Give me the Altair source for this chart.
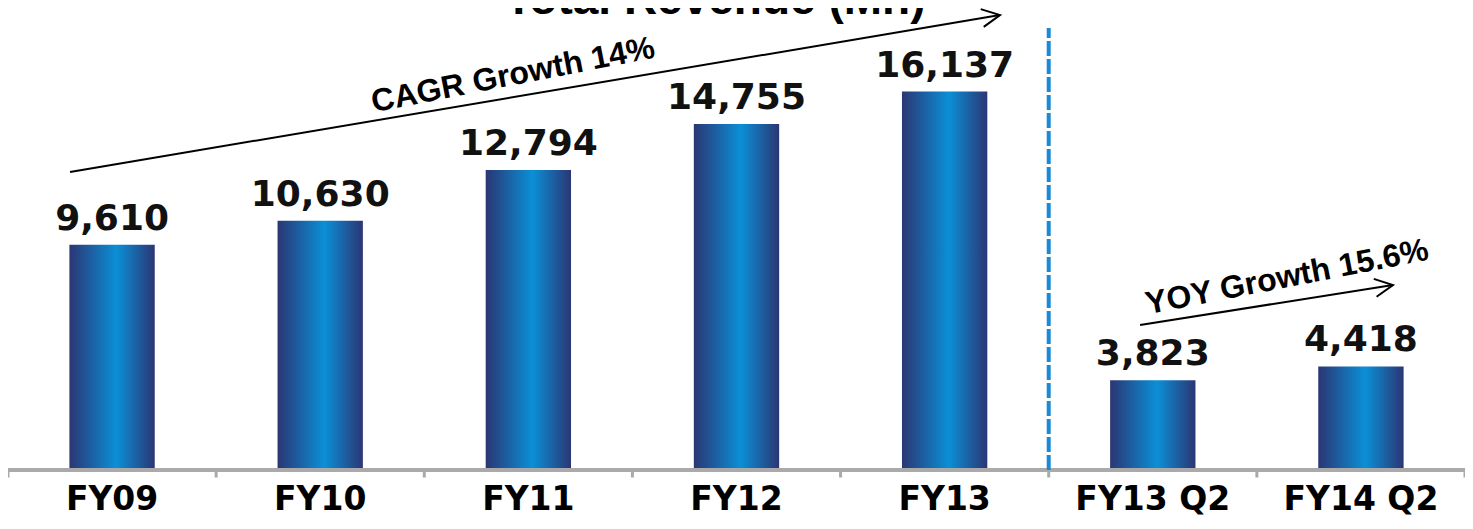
import altair as alt
import pandas as pd

# ---- data ----
categories = ["FY09", "FY10", "FY11", "FY12", "FY13", "FY13 Q2", "FY14 Q2"]
revenue = [9610, 10630, 12794, 14755, 16137, 3823, 4418]

# annotation arrows (x in category units 0..7, y in revenue units)
arrow_names = ["CAGR", "YOY"]
arrow_x0 = [0.298, 5.439]
arrow_y0 = [12707, 6183]
arrow_x1 = [4.766, 6.654]
arrow_y1 = [19401, 7889]
arrow_head_angle = [350.4, 351.0]

note_text = ["CAGR Growth 14%", "YOY Growth 15.6%"]
note_x = [2.426, 6.145]
note_y = [16843, 8229]
note_angle = [349, 349]

title_text = ["Total Revenue (Mn)"]
title_x = [3.397]
title_y = [19450]

divider_x = [5.0]
divider_y0 = [0]
divider_y1 = [18847]

# band boundaries where the axis shows its small ticks
tick_positions = [0, 1, 2, 3, 4, 5, 6, 7]
tick_top = 0
tick_bottom = -320

Y_MIN = -341
Y_MAX = 19700

bars_df = pd.DataFrame({"cat": categories, "rev": revenue})
arrows_df = pd.DataFrame({"name": arrow_names, "x0": arrow_x0, "y0": arrow_y0,
                          "x1": arrow_x1, "y1": arrow_y1, "ang": arrow_head_angle})
notes_df = pd.DataFrame({"t": note_text, "x": note_x, "y": note_y, "ang": note_angle})
title_df = pd.DataFrame({"t": title_text, "x": title_x, "y": title_y})
div_df = pd.DataFrame({"x": divider_x, "y0": divider_y0, "y1": divider_y1})
ticks_df = pd.DataFrame({"x": tick_positions,
                         "y0": [tick_top] * len(tick_positions),
                         "y1": [tick_bottom] * len(tick_positions)})
base_df = pd.DataFrame({"x0": [tick_positions[0]], "x1": [tick_positions[-1]], "y": [0]})

PLOT_H = 470  # zero line at 462 px, 8 px below it for the ticks
yscale = alt.Scale(domain=[Y_MIN, Y_MAX], nice=False, zero=False)

xband = alt.X(
    "cat:N", sort=categories,
    scale=alt.Scale(paddingInner=0.59, paddingOuter=0.295),
    axis=alt.Axis(title=None, labelAngle=0, labelFont="DejaVu Sans",
                  labelFontWeight="bold", labelFontSize=33, labelColor="#000000",
                  labelPadding=5, domain=False, ticks=False, grid=False),
)

gradient = alt.Gradient(
    gradient="linear",
    stops=[alt.GradientStop(color="#2b3674", offset=0),
           alt.GradientStop(color="#0b8fd6", offset=0.55),
           alt.GradientStop(color="#2b3674", offset=1)],
    x1=0, x2=1, y1=0, y2=0,
)

bars = alt.Chart(bars_df).mark_bar(color=gradient).encode(
    x=xband,
    y=alt.Y("rev:Q", scale=yscale, axis=None),
    y2=alt.datum(0),
)

values = alt.Chart(bars_df).mark_text(
    dy=-15, baseline="alphabetic", font="DejaVu Sans", fontWeight="bold",
    fontSize=36, color="#111111",
).encode(
    x=alt.X("cat:N", sort=categories),
    y=alt.Y("rev:Q", scale=yscale, axis=None),
    text=alt.Text("rev:Q", format=","),
)

base_band = alt.layer(bars, values)

xq = alt.Scale(domain=[0, 7], nice=False, zero=False)

baseline = alt.Chart(base_df).mark_rule(color="#aaaaaa", strokeWidth=4).encode(
    x=alt.X("x0:Q", scale=xq, axis=None),
    x2="x1:Q",
    y=alt.Y("y:Q", scale=yscale, axis=None),
)

ticks = alt.Chart(ticks_df).mark_rule(color="#aaaaaa", strokeWidth=3).encode(
    x=alt.X("x:Q", scale=xq, axis=None),
    y=alt.Y("y0:Q", scale=yscale, axis=None),
    y2="y1:Q",
)

arrows = alt.Chart(arrows_df).mark_rule(color="#000000", strokeWidth=2).encode(
    x=alt.X("x0:Q", scale=xq, axis=None),
    x2="x1:Q",
    y=alt.Y("y0:Q", scale=yscale, axis=None),
    y2="y1:Q",
)

heads = alt.Chart(arrows_df).mark_point(
    shape="M-1,-0.5L0,0L-1,0.5", filled=False, color="#000000",
    strokeWidth=2, size=1300, opacity=1,
).encode(
    x=alt.X("x1:Q", scale=xq, axis=None),
    y=alt.Y("y1:Q", scale=yscale, axis=None),
    angle=alt.Angle("ang:Q", scale=None),
)

notes = alt.Chart(notes_df).mark_text(
    font="Liberation Sans", fontWeight="bold", fontSize=32, color="#000000",
    align="center", baseline="middle",
).encode(
    x=alt.X("x:Q", scale=xq, axis=None),
    y=alt.Y("y:Q", scale=yscale, axis=None),
    angle=alt.Angle("ang:Q", scale=None),
    text="t:N",
)

title = alt.Chart(title_df).mark_text(
    font="Liberation Sans", fontWeight="bold", fontSize=46, color="#000000",
    align="center", baseline="alphabetic",
).encode(
    x=alt.X("x:Q", scale=xq, axis=None),
    y=alt.Y("y:Q", scale=yscale, axis=None),
    text="t:N",
)

divider = alt.Chart(div_df).mark_rule(
    color="#1b8ad6", strokeWidth=4, strokeDash=[15, 3],
).encode(
    x=alt.X("x:Q", scale=xq, axis=None),
    y=alt.Y("y0:Q", scale=yscale, axis=None),
    y2="y1:Q",
)

annot = alt.layer(baseline, ticks, divider, arrows, heads, notes, title)

chart = alt.layer(base_band, annot).resolve_scale(x="independent").properties(
    width=1457, height=PLOT_H,
    autosize=alt.AutoSizeParams(type="none"),
    padding={"left": 0, "top": 0, "right": 0, "bottom": 43},
    background="#ffffff",
).configure_view(stroke=None)

chart.save("out.html", embed_options={"renderer": "svg", "actions": False})
